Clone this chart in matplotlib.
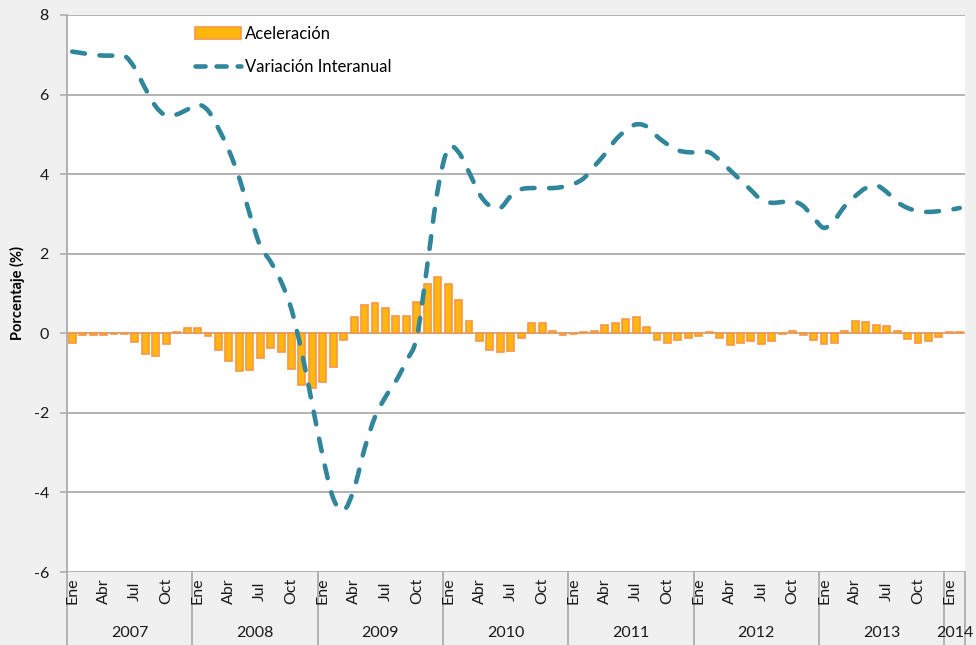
import numpy as np
import matplotlib
matplotlib.use("Agg")
import matplotlib.pyplot as plt
from matplotlib.path import Path
from matplotlib.patches import PathPatch
from matplotlib.lines import Line2D
from matplotlib.patches import Patch
import matplotlib.transforms as mtransforms

plt.rcParams['font.family'] = ['Lato', 'DejaVu Sans']
plt.rcParams['axes.unicode_minus'] = False

years = ["2007", "2008", "2009", "2010", "2011", "2012", "2013", "2014"]
month_labels = ["Ene", "", "", "Abr", "", "", "Jul", "", "", "Oct", "", ""]
months_per_year = [12, 12, 12, 12, 12, 12, 12, 2]

aceleracion = [
    -0.24, -0.05, -0.05, -0.05, -0.01, -0.01, -0.22, -0.52, -0.56, -0.28, 0.03, 0.14,
    0.13, -0.06, -0.42, -0.70, -0.94, -0.93, -0.63, -0.38, -0.46, -0.90, -1.30, -1.38,
    -1.23, -0.84, -0.17, 0.42, 0.72, 0.76, 0.64, 0.44, 0.44, 0.79, 1.24, 1.42,
    1.23, 0.84, 0.32, -0.20, -0.41, -0.48, -0.44, -0.12, 0.25, 0.27, 0.07, -0.04,
    -0.01, 0.03, 0.07, 0.22, 0.27, 0.35, 0.41, 0.17, -0.16, -0.25, -0.17, -0.13,
    -0.06, 0.03, -0.13, -0.29, -0.24, -0.20, -0.26, -0.19, -0.02, 0.05, -0.05, -0.17,
    -0.27, -0.24, 0.06, 0.30, 0.28, 0.21, 0.19, 0.07, -0.15, -0.25, -0.20, -0.09,
    0.03, 0.04,
]

variacion = [
    7.08, 7.04, 7.00, 6.98, 6.98, 6.98, 6.66, 6.15, 5.70, 5.47, 5.50, 5.62,
    5.75, 5.60, 5.15, 4.60, 3.90, 3.00, 2.20, 1.80, 1.30, 0.60, -0.50, -1.80,
    -3.10, -4.15, -4.45, -3.90, -2.90, -2.10, -1.60, -1.20, -0.70, -0.10, 1.70, 3.60,
    4.65, 4.55, 4.05, 3.50, 3.20, 3.15, 3.45, 3.62, 3.65, 3.65, 3.65, 3.68,
    3.75, 3.90, 4.20, 4.50, 4.85, 5.10, 5.25, 5.20, 4.95, 4.75, 4.60, 4.55,
    4.55, 4.55, 4.35, 4.10, 3.85, 3.60, 3.35, 3.28, 3.30, 3.32, 3.20, 2.90,
    2.65, 2.85, 3.20, 3.45, 3.65, 3.72, 3.55, 3.30, 3.15, 3.07, 3.05, 3.07,
    3.10, 3.15,
]

yticks = [-6, -4, -2, 0, 2, 4, 6, 8]

BG = '#F0F0F0'
GRID = '#ADADAD'
BAR_FACE = '#FFB60F'
BAR_EDGE = '#F79646'
LINE_C = '#31869B'

W, H = 976, 645
fig = plt.figure(figsize=(W / 100, H / 100), dpi=100, facecolor=BG)
ax = fig.add_axes([67 / W, 1 - 572 / H, 898 / W, 557 / H])
ax.set_facecolor('white')

n = len(aceleracion)
x = np.arange(n)

ax.set_xlim(-0.5, n - 0.5)
ax.set_ylim(-6, 8)
ax.set_yticks(yticks)
ax.set_yticklabels([str(v) for v in yticks], fontsize=11.5, color='#1a1a1a')
ax.set_xticks([])
ax.yaxis.grid(True, color=GRID, linewidth=1.3)
ax.set_axisbelow(True)
for s in ['top', 'right', 'bottom']:
    ax.spines[s].set_visible(False)
ax.spines['left'].set_color(GRID)
ax.spines['left'].set_linewidth(1.3)
ax.tick_params(axis='y', length=5, width=1.2, color=GRID, pad=8)

bars = ax.bar(x, aceleracion, width=0.66, color=BAR_FACE, edgecolor=BAR_EDGE,
              linewidth=1.2, zorder=2)

# smooth curve (Excel-style Bezier smoothing) through the data points
pts = np.column_stack([x, variacion]).astype(float)
verts = [tuple(pts[0])]
codes = [Path.MOVETO]
for i in range(len(pts) - 1):
    p0 = pts[i - 1] if i > 0 else pts[i]
    p1 = pts[i]
    p2 = pts[i + 1]
    p3 = pts[i + 2] if i + 2 < len(pts) else pts[i + 1]
    c1 = p1 + (p2 - p0) / 6.0
    c2 = p2 - (p3 - p1) / 6.0
    verts += [tuple(c1), tuple(c2), tuple(p2)]
    codes += [Path.CURVE4] * 3
path = Path(verts, codes)
LW = 3.3
curve = PathPatch(path, facecolor='none', edgecolor=LINE_C, linewidth=LW,
                  linestyle=(0, (2.8, 3.2)), capstyle='round', zorder=3)
ax.add_patch(curve)

# legend
h_bar = Patch(facecolor=BAR_FACE, edgecolor=BAR_EDGE, linewidth=1.2)
h_line = Line2D([0], [0], color=LINE_C, linewidth=LW, linestyle=(0, (2.2, 2.4)),
                dash_capstyle='round')
leg = ax.legend([h_bar, h_line], ['Aceleración', 'Variación Interanual'],
                loc='upper left', bbox_to_anchor=(121 / 898, 1 - 4 / 557),
                frameon=False, fontsize=12, handlelength=2.75, handleheight=0.7,
                labelspacing=1.05, handletextpad=0.25, borderaxespad=0)

# category axis (months + years)
trans = mtransforms.blended_transform_factory(ax.transData, fig.transFigure)
y_month = 1 - 591 / H
y_year = 1 - 633 / H
start = 0
bounds = [-0.5]
for yr, cnt in zip(years, months_per_year):
    for m in range(cnt):
        lab = month_labels[m]
        if lab:
            ax.text(start + m, y_month, lab, transform=trans, rotation=90,
                    ha='center', va='center', fontsize=11.5, color='#1a1a1a',
                    clip_on=False)
    ax.text(start + (cnt - 1) / 2.0, y_year, yr, transform=trans,
            ha='center', va='center', fontsize=11.5, color='#1a1a1a', clip_on=False)
    start += cnt
    bounds.append(start - 0.5)

for b in bounds:
    ax.add_line(Line2D([b, b], [0, 1 - 572 / H], transform=trans, color=GRID,
                       linewidth=1.3, clip_on=False))

ax.set_ylabel('Porcentaje (%)', fontsize=10.5, fontweight='bold')
ax.yaxis.set_label_coords(-42 / 898, 0.5)

fig.savefig('out.png', dpi=100, facecolor=BG)
